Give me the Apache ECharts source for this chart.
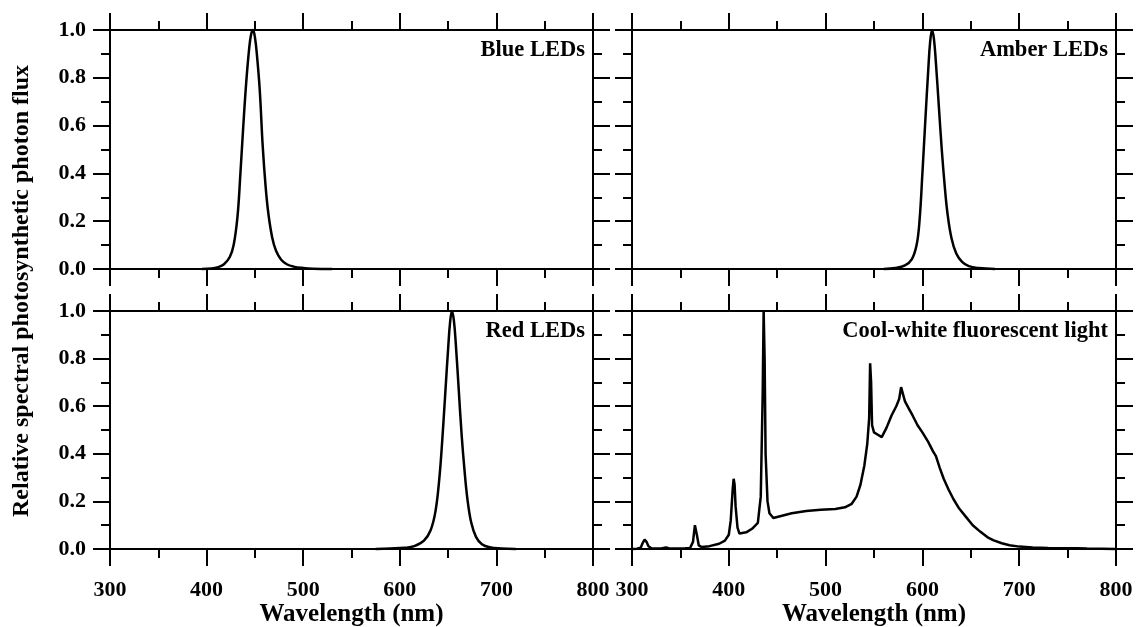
<!DOCTYPE html>
<html>
<head>
<meta charset="utf-8">
<script src="https://cdn.jsdelivr.net/npm/echarts@6/dist/echarts.min.js"></script>
<style>
  html, body { margin: 0; padding: 0; background: #fff; }
  #chart { width: 1137px; height: 627px; }
</style>
</head>
<body>
<div id="chart"></div>
<script>
// Relative spectral photosynthetic photon flux of four light sources, [wavelength nm, relative flux]
const panelTitles = ['Blue LEDs', 'Amber LEDs', 'Red LEDs', 'Cool-white fluorescent light'];
const wavelengthRange = [300, 800];
const fluxRange = [0, 1];

const blueLed = [
  [395, 0], [405, 0.002], [412, 0.008], [418, 0.02], [424, 0.05], [428, 0.1], [432, 0.22],
  [435, 0.4], [438, 0.6], [441, 0.78], [444, 0.92], [446, 0.98], [448, 1.0], [450, 0.97],
  [452, 0.9], [455, 0.75], [458, 0.52], [461, 0.35], [464, 0.23], [468, 0.13], [472, 0.075],
  [477, 0.04], [483, 0.02], [490, 0.01], [500, 0.004], [510, 0.001], [530, 0]
];

const amberLed = [
  [560, 0], [572, 0.004], [582, 0.015], [589, 0.04], [594, 0.1], [597, 0.2], [600, 0.4],
  [603, 0.62], [606, 0.83], [608, 0.95], [610, 1.0], [612, 0.96], [614, 0.86], [617, 0.68],
  [620, 0.5], [623, 0.35], [626, 0.23], [630, 0.13], [635, 0.065], [641, 0.03], [648, 0.012],
  [658, 0.004], [675, 0]
];

const redLed = [
  [575, 0], [590, 0.002], [605, 0.005], [615, 0.012], [625, 0.035], [632, 0.08], [637, 0.16],
  [641, 0.3], [644, 0.46], [647, 0.65], [650, 0.84], [652, 0.95], [654, 1.0], [656, 0.96],
  [658, 0.86], [661, 0.67], [664, 0.48], [667, 0.33], [670, 0.21], [674, 0.11], [679, 0.05],
  [685, 0.02], [693, 0.007], [705, 0.002], [720, 0]
];

const coolWhite = [
  [300, 0], [305, 0.001], [309, 0.005], [311, 0.025], [313, 0.04], [315, 0.03], [317, 0.012],
  [320, 0.003], [330, 0.002], [335, 0.006], [338, 0.003], [345, 0.002], [355, 0.003],
  [360, 0.004], [363, 0.03], [365, 0.1], [367, 0.06], [369, 0.015], [372, 0.008], [380, 0.012],
  [390, 0.022], [396, 0.035], [400, 0.06], [402, 0.12], [404, 0.25], [405, 0.295], [406, 0.27],
  [407, 0.18], [409, 0.09], [411, 0.065], [413, 0.06], [418, 0.07], [424, 0.085], [430, 0.11],
  [433, 0.22], [435, 0.65], [436, 1.0], [437, 0.8], [438, 0.4], [440, 0.2], [442, 0.15],
  [446, 0.13], [455, 0.14], [465, 0.15], [480, 0.16], [495, 0.165], [510, 0.168], [520, 0.175],
  [527, 0.19], [532, 0.22], [536, 0.27], [540, 0.35], [543, 0.44], [545, 0.55], [546, 0.78],
  [547, 0.7], [548, 0.52], [550, 0.49], [554, 0.48], [558, 0.47], [563, 0.51], [568, 0.56],
  [573, 0.6], [576, 0.63], [578, 0.68], [580, 0.65], [582, 0.62], [586, 0.59], [590, 0.56],
  [595, 0.52], [600, 0.49], [606, 0.45], [611, 0.41], [614, 0.39], [618, 0.34], [622, 0.295],
  [627, 0.25], [632, 0.21], [638, 0.17], [645, 0.135], [652, 0.1], [660, 0.072], [667, 0.05],
  [673, 0.037], [682, 0.024], [690, 0.016], [700, 0.01], [714, 0.006], [730, 0.004],
  [745, 0.003], [760, 0.003], [770, 0.002], [785, 0.001], [800, 0]
];

const spectra = [blueLed, amberLed, redLed, coolWhite];
const smoothing = [0.4, 0.4, 0.4, false];

const FONT = '"Liberation Serif", "Times New Roman", serif';
const BLACK = '#000';

// panel boxes: top-left, top-right, bottom-left, bottom-right
const grids = [
  { left: 110, top: 30, width: 483, height: 239 },
  { left: 632, top: 30, width: 484, height: 239 },
  { left: 110, top: 311, width: 483, height: 238 },
  { left: 632, top: 311, width: 484, height: 238 }
];

function axisBase() {
  return {
    axisLine: { show: true, onZero: false, lineStyle: { color: BLACK, width: 2 } },
    axisTick: { show: true, inside: false, length: 17, lineStyle: { color: BLACK, width: 2 } },
    minorTick: { show: true, splitNumber: 2, length: 9, lineStyle: { color: BLACK, width: 2 } },
    splitLine: { show: false },
    minorSplitLine: { show: false }
  };
}

const xAxes = [];
const yAxes = [];
grids.forEach((g, i) => {
  const bottomRow = i >= 2;
  const leftCol = i % 2 === 0;
  ['bottom', 'top'].forEach(pos => {
    const showLab = pos === 'bottom' && bottomRow;
    xAxes.push(Object.assign(axisBase(), {
      type: 'value', gridIndex: i, position: pos,
      min: wavelengthRange[0], max: wavelengthRange[1], interval: 100,
      name: showLab ? 'Wavelength (nm)' : '',
      nameLocation: 'middle', nameGap: 52,
      nameTextStyle: { fontFamily: FONT, fontWeight: 'bold', fontSize: 25, color: BLACK },
      axisLabel: { show: showLab, fontFamily: FONT, fontWeight: 'bold', fontSize: 22, color: BLACK, margin: 30 }
    }));
  });
  ['left', 'right'].forEach(pos => {
    const showLab = pos === 'left' && leftCol;
    yAxes.push(Object.assign(axisBase(), {
      type: 'value', gridIndex: i, position: pos,
      min: fluxRange[0], max: fluxRange[1], interval: 0.2,
      axisLabel: {
        show: showLab, fontFamily: FONT, fontWeight: 'bold', fontSize: 22, color: BLACK, margin: 24,
        formatter: v => v.toFixed(1)
      }
    }));
  });
});

const series = spectra.map((data, i) => ({
  type: 'line',
  xAxisIndex: 2 * i,
  yAxisIndex: 2 * i,
  data: data,
  smooth: smoothing[i],
  symbol: 'none',
  lineStyle: { color: BLACK, width: 2.5 },
  clip: false
}));

const graphics = grids.map((g, i) => ({
  type: 'text',
  x: g.left + g.width - 8,
  y: g.top + 20,
  style: {
    text: panelTitles[i],
    font: 'bold 22.5px ' + FONT,
    fill: BLACK,
    textAlign: 'right',
    textVerticalAlign: 'middle'
  }
}));
graphics.push({
  type: 'text',
  x: 22,
  y: 291,
  rotation: Math.PI / 2,
  style: {
    text: 'Relative spectral photosynthetic photon flux',
    font: 'bold 24px ' + FONT,
    fill: BLACK,
    textAlign: 'center',
    textVerticalAlign: 'middle'
  }
});

const chart = echarts.init(document.getElementById('chart'), null, { renderer: 'canvas' });
chart.setOption({
  animation: false,
  backgroundColor: '#fff',
  grid: grids.map(g => Object.assign({ containLabel: false, outerBoundsMode: 'none' }, g)),
  xAxis: xAxes,
  yAxis: yAxes,
  series: series,
  graphic: graphics
});
</script>
</body>
</html>
